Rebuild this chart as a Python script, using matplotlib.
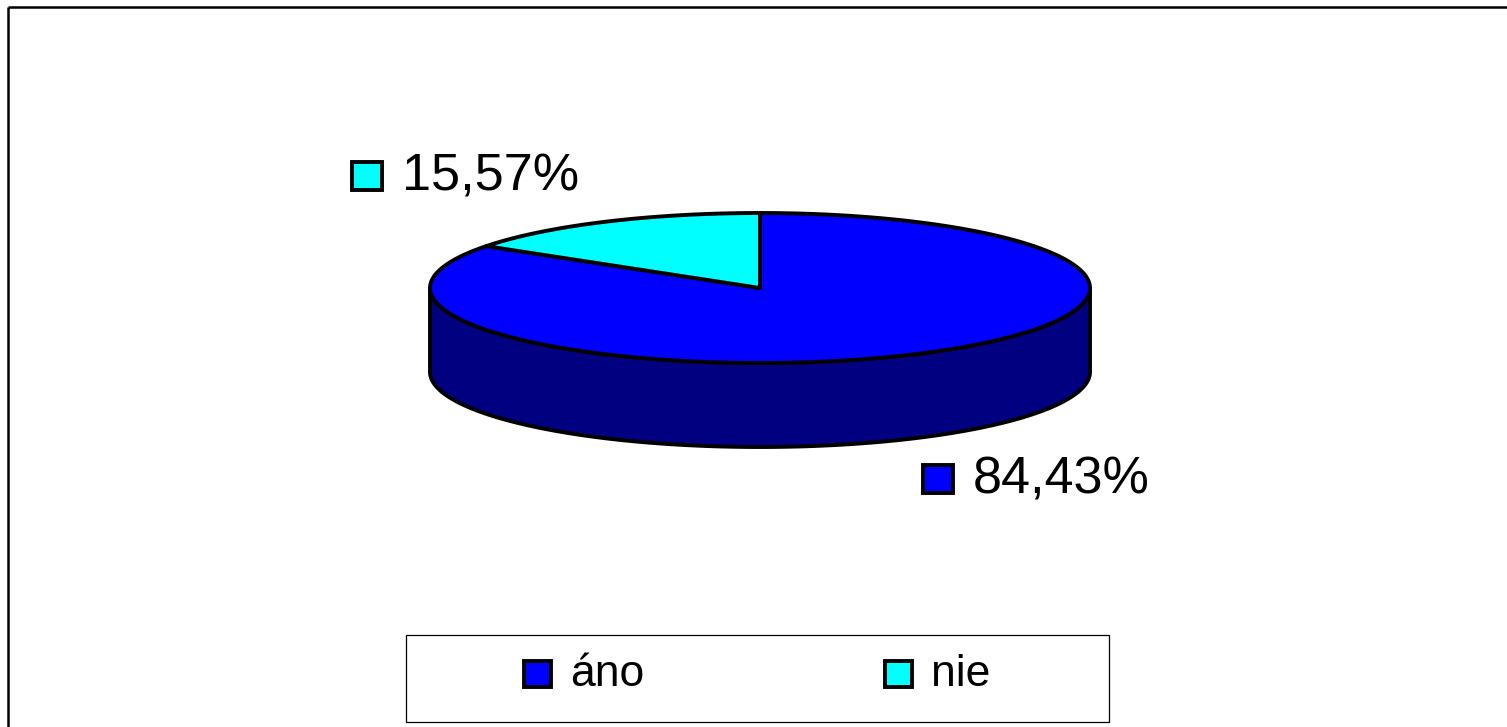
#!/usr/bin/env python3
"""3D-style pie chart (ano / nie) in the old Excel look."""

import numpy as np
import matplotlib
matplotlib.use('Agg')
import matplotlib.pyplot as plt
from matplotlib.patches import Polygon, Rectangle

# data
categories = ['áno', 'nie']
values = [84.43, 15.57]
value_labels = ['84,43%', '15,57%']
top_colors = ['#0000ff', '#00ffff']
side_colors = ['#000080', '#008080']

plt.rcParams['font.family'] = ['Liberation Sans', 'DejaVu Sans']

W, H = 1507, 727
fig = plt.figure(figsize=(W / 100, H / 100), dpi=100)
ax = fig.add_axes([0, 0, 1, 1])
ax.set_xlim(0, W)
ax.set_ylim(H, 0)
ax.axis('off')

# chart area border (only top and left visible)
ax.plot([7.5, W], [6.5, 6.5], color='black', lw=1.8, solid_capstyle='butt')
ax.plot([7.5, 7.5], [6.5, H], color='black', lw=1.8, solid_capstyle='butt')

# pie geometry
cx, cy = 760, 288
rx, ry = 330, 75
depth = 84
lw = 2.8


def pt(theta_deg, dy=0.0):
    t = np.radians(theta_deg)
    return cx + rx * np.cos(t), cy - ry * np.sin(t) + dy


# slices go clockwise from 12 o'clock
total = sum(values)
bounds = []
start = 90.0
for v in values:
    end = start - 360.0 * v / total
    bounds.append((end, start))
    start = end

# side walls (front half: angles 180..360)
for (a0, a1), col in zip(bounds, side_colors):
    for shift in (-360, 0, 360):
        lo = max(a0 + shift, 180)
        hi = min(a1 + shift, 360)
        if hi <= lo:
            continue
        th = np.linspace(lo, hi, 200)
        top = [pt(t) for t in th]
        bot = [pt(t, depth) for t in th[::-1]]
        ax.add_patch(Polygon(top + bot, closed=True, facecolor=col,
                             edgecolor='black', lw=lw, joinstyle='round'))

# top faces
for (a0, a1), col in zip(bounds, top_colors):
    th = np.linspace(a0, a1, 300)
    verts = [(cx, cy)] + [pt(t) for t in th]
    ax.add_patch(Polygon(verts, closed=True, facecolor=col,
                         edgecolor='black', lw=lw, joinstyle='round'))

# data labels with colour keys
label_pos = [(923, 479), (352, 176)]
for (x, y), txt, col in zip(label_pos, value_labels, top_colors):
    ax.add_patch(Rectangle((x, y - 14), 30, 28, facecolor=col,
                           edgecolor='black', lw=lw))
    ax.text(x + 50, y + 1, txt, fontsize=37.5, ha='left', va='center',
            color='black')

# legend box
ax.add_patch(Rectangle((405.5, 634.5), 703, 87, facecolor='white',
                       edgecolor='black', lw=0.9))
leg_x = [524, 885]
for x, name, col in zip(leg_x, categories, top_colors):
    ax.add_patch(Rectangle((x, 661), 27, 26, facecolor=col,
                           edgecolor='black', lw=lw))
    ax.text(x + 46, 675, name, fontsize=32, ha='left', va='center',
            color='black')

plt.savefig('out.png', dpi=100)
plt.close()
